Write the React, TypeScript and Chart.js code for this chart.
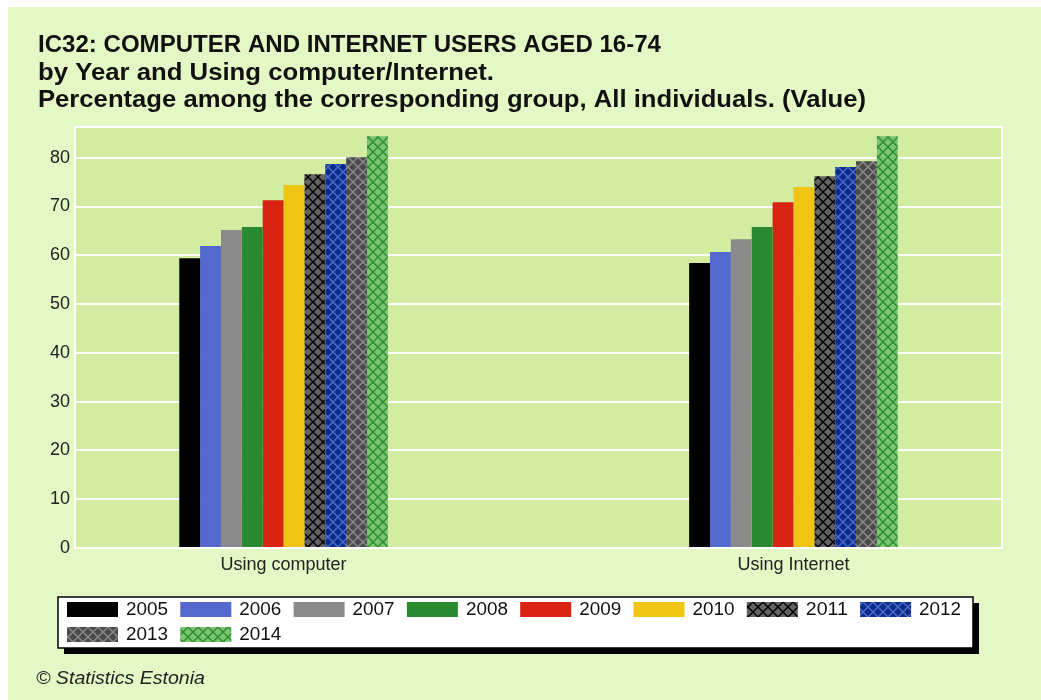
import React, { useEffect, useRef } from "react";
import { Chart, registerables } from "chart.js";

Chart.register(...registerables);

const categories = ["Using computer", "Using Internet"];
const years = ["2005", "2006", "2007", "2008", "2009", "2010", "2011", "2012", "2013", "2014"];
const usingComputer = [59.4, 61.9, 65.2, 65.8, 71.3, 74.4, 76.6, 78.7, 80.1, 84.4];
const usingInternet = [58.4, 60.7, 63.3, 65.8, 70.9, 74.0, 76.2, 78.1, 79.3, 84.4];
const yTicks = [0, 10, 20, 30, 40, 50, 60, 70, 80];
const titleLines = [
  "IC32: COMPUTER AND INTERNET USERS AGED 16-74",
  "by Year and Using computer/Internet.",
  "Percentage among the corresponding group, All individuals. (Value)",
];
const footerText = "\u00A9 Statistics Estonia";

// fill styles: [background, hatch line colour or null]
const yearStyles: [string, string | null][] = [
  ["#000000", null],
  ["#5468CE", null],
  ["#8A8A8A", null],
  ["#2A8A30", null],
  ["#D82410", null],
  ["#F0C415", null],
  ["#636363", "#000000"],
  ["#0A2D8A", "#4E6CD0"],
  ["#4A4A4A", "#8C8C8C"],
  ["#7CC46E", "#2A8C2E"],
];

function makeFill(bg: string, line: string | null): string | CanvasPattern {
  if (!line) return bg;
  const c = document.createElement("canvas");
  c.width = 10;
  c.height = 10;
  const x = c.getContext("2d")!;
  x.fillStyle = bg;
  x.fillRect(0, 0, 10, 10);
  x.strokeStyle = line;
  x.lineWidth = 1.4;
  x.beginPath();
  x.moveTo(-1, -1);
  x.lineTo(11, 11);
  x.moveTo(11, -1);
  x.lineTo(-1, 11);
  x.stroke();
  const p = x.createPattern(c, "repeat");
  return p || bg;
}

const OUTER_BG = "#E3F8C5";
const PLOT_BG = "#D2EDA2";
const FONT = "Arial, 'Liberation Sans', sans-serif";

// draw text stretched horizontally to a target width
function fitText(ctx: CanvasRenderingContext2D, text: string, x: number, y: number, target: number) {
  const w = ctx.measureText(text).width;
  const s = w > 0 ? target / w : 1;
  ctx.save();
  ctx.translate(x, y);
  ctx.scale(s, 1);
  ctx.fillText(text, 0, 0);
  ctx.restore();
}

export default function App() {
  const ref = useRef<HTMLCanvasElement | null>(null);

  useEffect(() => {
    const canvas = ref.current!;
    const fills = yearStyles.map(([bg, line]) => makeFill(bg, line));

    const decor = {
      id: "decor",
      beforeDraw(chart: any) {
        const { ctx, chartArea } = chart;
        ctx.save();
        ctx.fillStyle = OUTER_BG;
        ctx.fillRect(0, 0, chart.width, chart.height);
        ctx.fillStyle = PLOT_BG;
        ctx.fillRect(chartArea.left, chartArea.top, chartArea.right - chartArea.left, chartArea.bottom - chartArea.top);
        ctx.restore();
      },
      afterDraw(chart: any) {
        const { ctx, chartArea } = chart;
        ctx.save();
        // plot border
        ctx.strokeStyle = "#FFFFFF";
        ctx.lineWidth = 2;
        ctx.strokeRect(chartArea.left, chartArea.top, chartArea.right - chartArea.left, chartArea.bottom - chartArea.top);

        // title
        ctx.fillStyle = "#111111";
        ctx.font = "bold 23px " + FONT;
        ctx.textAlign = "left";
        ctx.textBaseline = "alphabetic";
        const baselines = [45, 72.5, 100];
        const widths = [623, 456, 828];
        titleLines.forEach((t, i) => fitText(ctx, t, 30, baselines[i], widths[i]));

        // legend box with shadow
        const L = 50, T = 590, R = 965, B = 641;
        ctx.fillStyle = "#000000";
        ctx.fillRect(L + 6, T + 6, R - L, B - T);
        ctx.fillStyle = "#FFFFFF";
        ctx.fillRect(L, T, R - L, B - T);
        ctx.strokeStyle = "#000000";
        ctx.lineWidth = 1.5;
        ctx.strokeRect(L, T, R - L, B - T);

        ctx.font = "18px " + FONT;
        ctx.textBaseline = "middle";
        years.forEach((y, i) => {
          const row = Math.floor(i / 8);
          const col = i % 8;
          const bx = 59 + col * 113.3;
          const by = 595 + row * 25;
          ctx.fillStyle = fills[i] as any;
          ctx.fillRect(bx, by, 51, 15);
          ctx.fillStyle = "#111111";
          fitText(ctx, y, bx + 59, by + 8, 42);
        });

        // footer
        ctx.font = "italic 19px " + FONT;
        ctx.fillStyle = "#222222";
        fitText(ctx, footerText, 28, 672, 169);
        ctx.restore();
      },
    };

    const chart = new Chart(canvas, {
      type: "bar",
      data: {
        labels: categories,
        datasets: years.map((y, i) => ({
          label: y,
          data: [usingComputer[i], usingInternet[i]],
          backgroundColor: fills[i] as any,
          borderWidth: 0,
          barPercentage: 1,
          categoryPercentage: 0.409,
        })),
      },
      options: {
        animation: false,
        responsive: false,
        devicePixelRatio: 1,
        layout: { padding: { left: 27, right: 39, top: 120, bottom: 92 } },
        plugins: {
          legend: { display: false },
          title: { display: false },
          tooltip: { enabled: false },
        },
        scales: {
          x: {
            grid: { display: false, drawTicks: false },
            border: { display: false },
            afterBuildTicks(scale: any) {
              // category centres sit 0.409 of their spacing in from the plot edges
              scale._startValue = -0.409;
              scale._valueRange = 1.818;
            },
            ticks: {
              padding: 6,
              color: "#222222",
              font: { family: FONT, size: 18 },
            },
            afterFit(scale: any) {
              scale.height = 60;
            },
          },
          y: {
            min: 0,
            max: 86.3,
            afterBuildTicks(scale: any) {
              scale.ticks = yTicks.map((v) => ({ value: v }));
            },
            grid: { color: "#FFFFFF", lineWidth: 2, drawTicks: false },
            border: { display: false },
            ticks: {
              padding: 5,
              color: "#222222",
              font: { family: FONT, size: 18 },
            },
            afterFit(scale: any) {
              scale.width = 40;
            },
          },
        },
      },
      plugins: [decor],
    });
    return () => chart.destroy();
  }, []);

  return (
    <div style={{ position: "fixed", left: 8, top: 7, width: 1033, height: 693, background: OUTER_BG, overflow: "hidden" }}>
      <canvas ref={ref} width={1033} height={693} style={{ display: "block" }} />
    </div>
  );
}
